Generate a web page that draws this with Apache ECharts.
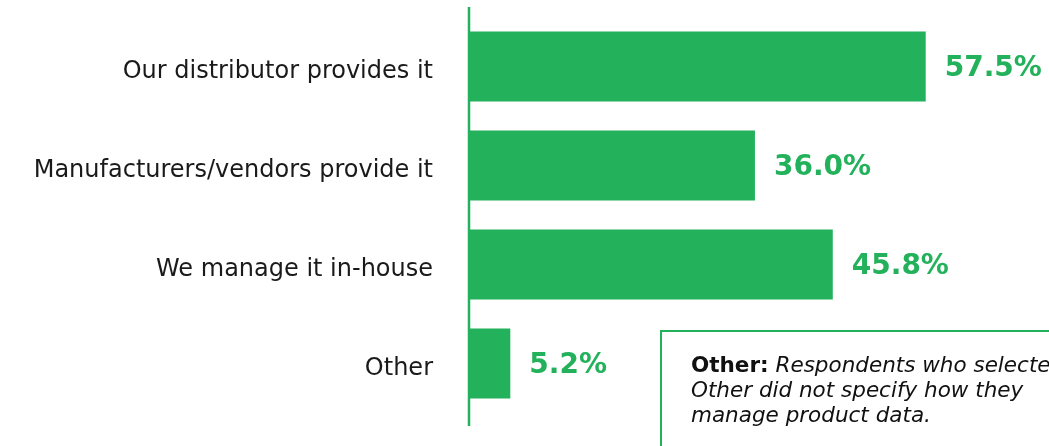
<!DOCTYPE html>
<html>
<head>
<meta charset="utf-8">
<script src="https://cdn.jsdelivr.net/npm/echarts@6/dist/echarts.min.js"></script>
<style>
html,body{margin:0;padding:0;background:#fff;}
#chart{width:1049px;height:446px;}
</style>
</head>
<body>
<div id="chart"></div>
<script>
const categories = ['Our distributor provides it', 'Manufacturers/vendors provide it', 'We manage it in-house', 'Other'];
const values = [57.5, 36.0, 45.8, 5.2];
const noteLines = ['Respondents who selected', 'Other did not specify how they', 'manage product data.'];
const noteLead = 'Other:';

const GREEN = '#23b25b';
const FONT = 'DejaVu Sans';

const chart = echarts.init(document.getElementById('chart'), null, {renderer: 'canvas'});
chart.setOption({
  animation: false,
  backgroundColor: '#ffffff',
  grid: {left: 469, right: 24, top: 17, bottom: 33, containLabel: false},
  xAxis: {
    type: 'value', min: 0, max: 70,
    show: false
  },
  yAxis: {
    type: 'category', data: categories, inverse: true,
    axisLine: {show: false},
    axisTick: {show: false},
    axisLabel: {
      color: '#1a1a1a', fontFamily: FONT, fontSize: 24, margin: 36,
      formatter: v => '{a|' + v + '}',
      rich: {a: {color: '#1a1a1a', fontFamily: FONT, fontSize: 24, padding: [10, 0, 0, 0]}}
    }
  },
  series: [{
    type: 'bar',
    data: values,
    barWidth: 70,
    itemStyle: {color: GREEN},
    label: {
      show: true, position: 'right', distance: 19,
      color: GREEN, fontFamily: FONT, fontSize: 28, fontWeight: 'bold',
      formatter: p => '{v|' + p.value.toFixed(1) + '%}',
      rich: {v: {color: GREEN, fontFamily: FONT, fontSize: 28, fontWeight: 'bold', padding: [4, 0, 0, 0]}}
    }
  }],
  graphic: [
    {type: 'line', shape: {x1: 469, y1: 7, x2: 469, y2: 426}, style: {stroke: GREEN, lineWidth: 2.5}, z: 10},
    {type: 'rect', shape: {x: 661, y: 331, width: 450, height: 160}, style: {fill: '#fff', stroke: GREEN, lineWidth: 2}, z: 5},
    {type: 'text', x: 691, y: 354, z: 6, style: {
      text: '{b|' + noteLead + '} {i|' + noteLines[0] + '}\n{i|' + noteLines[1] + '}\n{i|' + noteLines[2] + '}',
      fontFamily: FONT, fontSize: 21.5, lineHeight: 25, fill: '#111',
      verticalAlign: 'top', align: 'left',
      rich: {
        b: {fontFamily: FONT, fontSize: 21.5, fontWeight: 'bold', lineHeight: 25, fill: '#111'},
        i: {fontFamily: FONT, fontSize: 21.5, fontStyle: 'italic', lineHeight: 25, fill: '#111'}
      }
    }}
  ]
});
</script>
</body>
</html>
